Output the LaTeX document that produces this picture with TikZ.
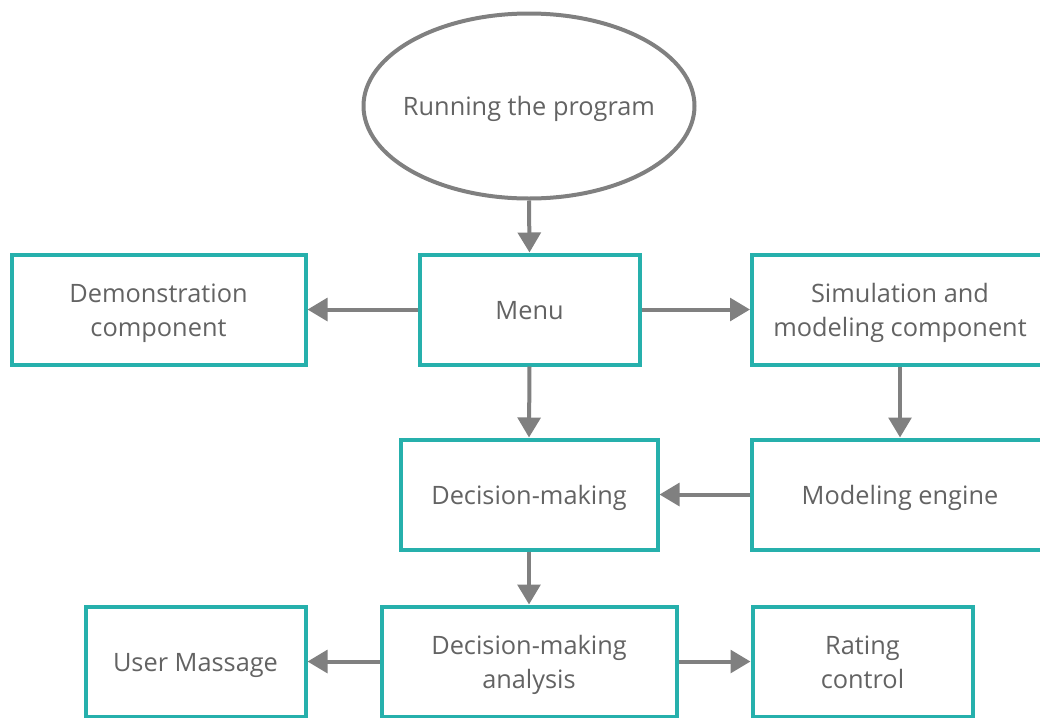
\documentclass[tikz,border=0pt]{standalone}
\usepackage{fontspec}
\setmainfont{Open Sans}
\usetikzlibrary{arrows.meta,shapes.geometric}
\definecolor{teal1}{HTML}{26B0AC}
\definecolor{grey1}{HTML}{808080}
\definecolor{txt}{HTML}{636363}
\newcommand\ls{\rule[-5.4pt]{0pt}{25.5pt}}
\tikzset{
  lbl/.style={text=txt, align=center, inner sep=0pt, font=\fontsize{19}{25.5}\selectfont},
  box/.style={draw=teal1, line width=3pt, fill=white, inner sep=0pt, minimum height=110*0.75pt},
  oval/.style={ellipse, draw=grey1, line width=3pt, inner sep=0pt},
  conn/.style={draw=grey1, line width=3pt, -{Triangle[width=17pt,length=15pt]}},
  txtc/.style={label={[lbl]center:#1}}
}
\begin{document}
\begin{tikzpicture}[x=0.75pt,y=-0.75pt]
\useasboundingbox (0,0) rectangle (1040,718);
\node[oval, minimum width=331*0.75pt, minimum height=185*0.75pt, txtc={\ls Running the program}] (run) at (529,106) {};
\node[box, minimum width=294*0.75pt, txtc={\ls Demonstration\\\ls component}] (demo) at (158.5,309.5) {};
\node[box, minimum width=220*0.75pt, txtc={\ls Menu}] (menu) at (529.5,309.5) {};
\node[box, minimum width=296*0.75pt, txtc={\ls Simulation and\\\ls modeling component}] (sim) at (900,309.5) {};
\node[box, minimum width=257*0.75pt, txtc={\ls Decision-making}] (dec) at (529,494.5) {};
\node[box, minimum width=296*0.75pt, txtc={\ls Modeling engine}] (eng) at (900,494.5) {};
\node[box, minimum width=220*0.75pt, txtc={\ls User Massage}] (user) at (195.5,661.5) {};
\node[box, minimum width=295*0.75pt, txtc={\ls Decision-making\\\ls analysis}] (ana) at (529,661.5) {};
\node[box, minimum width=220*0.75pt, txtc={\ls Rating\\\ls control}] (rate) at (862.5,661.5) {};
\draw[conn] (run.south) -- (menu.north);
\draw[conn] (menu.west) -- (demo.east);
\draw[conn] (menu.east) -- (sim.west);
\draw[conn] (menu.south) -- (dec.north);
\draw[conn] (sim.south) -- (eng.north);
\draw[conn] (eng.west) -- (dec.east);
\draw[conn] (dec.south) -- (ana.north);
\draw[conn] (ana.west) -- (user.east);
\draw[conn] (ana.east) -- (rate.west);
\end{tikzpicture}
\end{document}
